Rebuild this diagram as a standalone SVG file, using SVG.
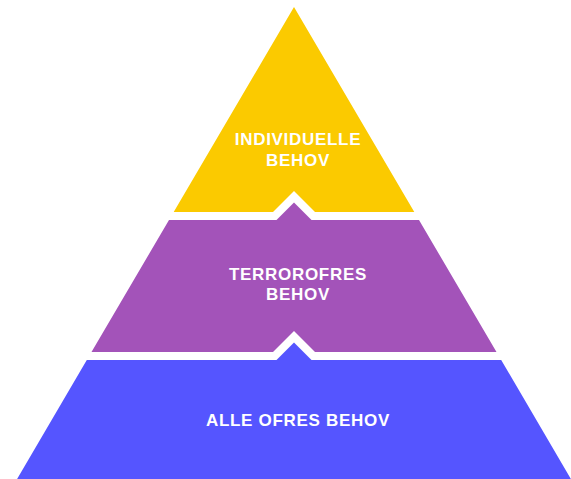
<svg xmlns="http://www.w3.org/2000/svg" width="571" height="479" viewBox="0 0 571 479">
  <style>
    .lbl { font-family: "Liberation Sans", Arial, sans-serif; font-weight: bold; font-size: 17px; fill: #ffffff; text-anchor: middle; letter-spacing: 0.7px; }
  </style>
  <rect width="571" height="479" fill="#ffffff"/>
  <g id="layer-top">
    <polygon points="294,7 414.3,212 315,212 294,191 273,212 173.7,212" fill="#FBCA00"/>
    <text class="lbl" x="298" y="145">INDIVIDUELLE</text>
    <text class="lbl" x="298" y="166">BEHOV</text>
  </g>
  <g id="layer-middle">
    <polygon points="169,220 276.5,220 294,202.5 311.5,220 419,220 496.5,352 315,352 294,331 273,352 91.5,352" fill="#A353B9"/>
    <text class="lbl" x="298" y="280">TERROROFRES</text>
    <text class="lbl" x="298" y="300">BEHOV</text>
  </g>
  <g id="layer-bottom">
    <polygon points="86.8,360 276.5,360 294,342.5 311.5,360 501.2,360 575,486 13,486" fill="#5555FF"/>
    <text class="lbl" x="298" y="425.7">ALLE OFRES BEHOV</text>
  </g>
  <g id="connectors"/>
</svg>
